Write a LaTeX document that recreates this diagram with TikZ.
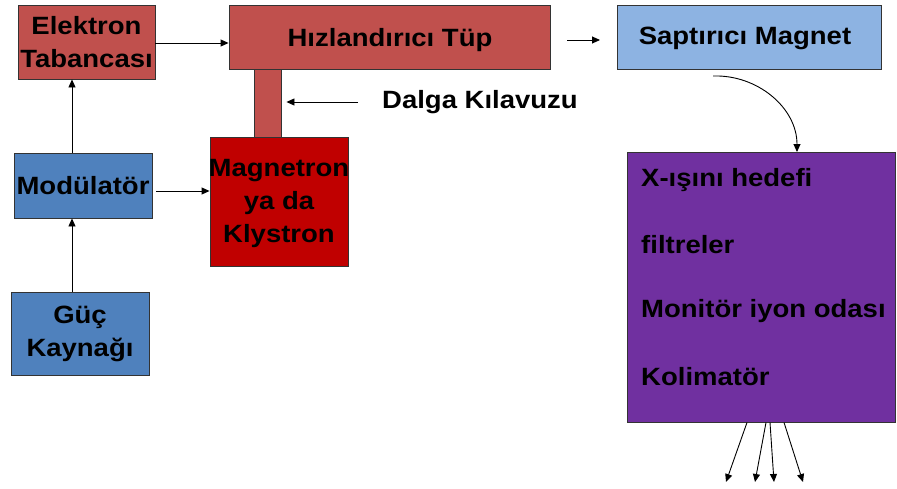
\documentclass[tikz,border=0pt]{standalone}
\usepackage{fontspec}
\setmainfont{Liberation Sans}[FakeStretch=1.1]
\usetikzlibrary{arrows.meta}

\definecolor{brick}{HTML}{C0504D}
\definecolor{deepred}{HTML}{C00000}
\definecolor{steel}{HTML}{4F81BD}
\definecolor{skyblue}{HTML}{8DB3E2}
\definecolor{violet}{HTML}{7030A0}

\tikzset{
  box/.style={draw=black!80, line width=0.9pt, inner sep=0pt, anchor=center},
  lbl/.style={font=\fontsize{25}{33}\selectfont\bfseries, align=center, inner sep=0pt, text=black},
  arr/.style={-{Triangle[length=8pt,width=7pt]}, line width=0.9pt, black}
}

\begin{document}
\begin{tikzpicture}[x=1pt, y=-1pt]
  \useasboundingbox (0,0) rectangle (897,488);

  % left column
  \node[box, fill=brick, minimum width=137pt, minimum height=74pt] (gun) at (86.5,42) {};
  \node[lbl] at (gun) {Elektron\\Tabancası};
  \node[box, fill=steel, minimum width=138pt, minimum height=65pt] (mod) at (83,185.5) {};
  \node[lbl] at (mod) {Modülatör};
  \node[box, fill=steel, minimum width=138pt, minimum height=83pt] (psu) at (80,333.5) {};
  \node[lbl] at (psu) {Güç\\Kaynağı};

  % accelerator, waveguide and RF source
  \node[box, fill=brick, minimum width=27pt, minimum height=68pt] (wg) at (267.5,103) {};
  \node[box, fill=brick, minimum width=321pt, minimum height=64pt] (tube) at (389.5,37) {};
  \node[lbl] at (390,40) {Hızlandırıcı Tüp};
  \node[box, fill=deepred, minimum width=138pt, minimum height=129pt] (rf) at (279,201.5) {};
  \node[lbl] at (279,203.5) {Magnetron\\ya da\\Klystron};
  \node[lbl, anchor=west] (wglbl) at (382,102) {Dalga Kılavuzu};

  % bending magnet and treatment head
  \node[box, fill=skyblue, minimum width=264pt, minimum height=64pt] (bend) at (749,37) {};
  \node[lbl] at (745,38) {Saptırıcı Magnet};
  \node[box, fill=violet, minimum width=268pt, minimum height=270pt] (head) at (761,287) {};
  \node[lbl, anchor=west] (t1) at (641,180) {X-ışını hedefi};
  \node[lbl, anchor=west] (t2) at (641,245) {filtreler};
  \node[lbl, anchor=west] (t3) at (641,311) {Monitör iyon odası};
  \node[lbl, anchor=west] (t4) at (641,377) {Kolimatör};

  % connectors
  \draw[arr] (psu.north -| 72,0) -- (mod.south -| 72,0);
  \draw[arr] (mod.north -| 72,0) -- (gun.south -| 72,0);
  \draw[arr] (gun.east |- 0,43) -- (tube.west |- 0,43);
  \draw[arr] (mod.east |- 0,191) ++(4,0) -- (rf.west |- 0,191);
  \draw[arr] (wglbl.west) ++(-24,0) -- ([xshift=5pt]wg.east |- 0,102);

  \coordinate (gapL) at (567,40);
  \coordinate (gapR) at (600,40);
  \draw[arr] (gapL) -- (gapR);

  \coordinate (bendOut) at (713,76);
  \draw[arr] (bendOut) to[out=2, in=90] (797,152);

  % emerging beams
  \coordinate (b1) at (726,482);
  \coordinate (b2) at (755,482);
  \coordinate (b3) at (774,482);
  \coordinate (b4) at (803,482);
  \draw[arr] (head.south -| 747,0) -- (b1);
  \draw[arr] (head.south -| 766,0) -- (b2);
  \draw[arr] (head.south -| 770,0) -- (b3);
  \draw[arr] (head.south -| 784,0) -- (b4);
\end{tikzpicture}
\end{document}
